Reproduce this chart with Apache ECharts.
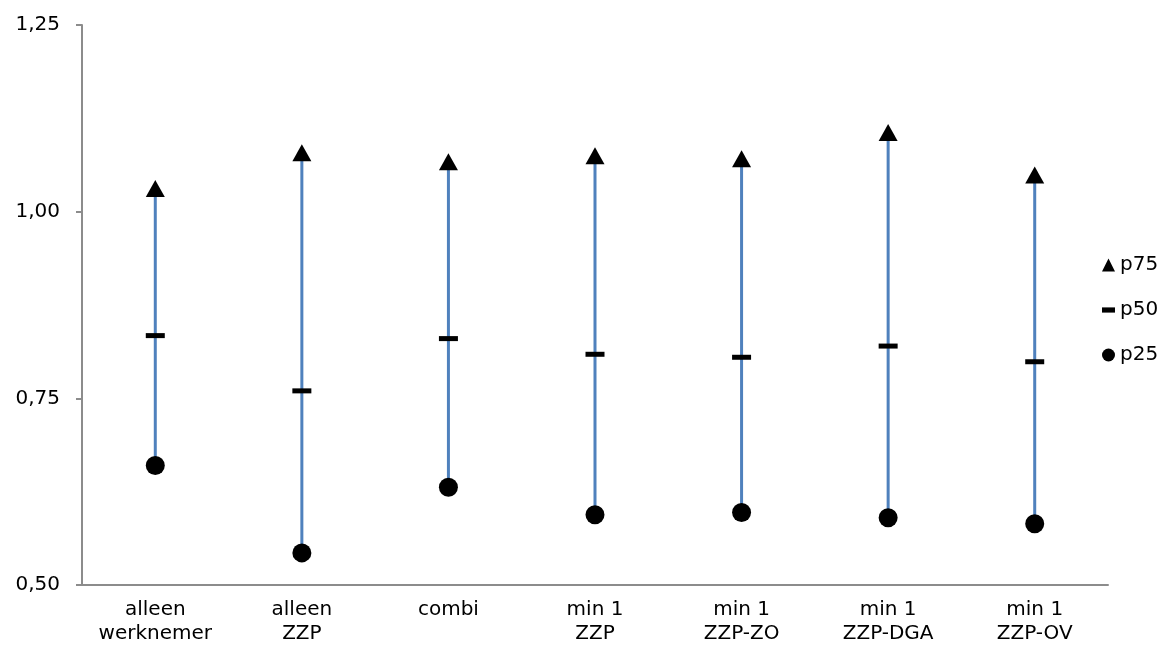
<!DOCTYPE html>
<html>
<head>
<meta charset="utf-8">
<script src="https://cdn.jsdelivr.net/npm/echarts@6/dist/echarts.min.js"></script>
<style>
html,body{margin:0;padding:0;background:#fff;}
#chart{width:1161px;height:650px;}
</style>
</head>
<body>
<div id="chart"></div>
<script>
const categories = ['alleen\nwerknemer', 'alleen\nZZP', 'combi', 'min 1\nZZP', 'min 1\nZZP-ZO', 'min 1\nZZP-DGA', 'min 1\nZZP-OV'];
const p75 = [1.031, 1.079, 1.067, 1.075, 1.071, 1.106, 1.049];
const p50 = [0.834, 0.760, 0.830, 0.809, 0.805, 0.820, 0.799];
const p25 = [0.660, 0.543, 0.631, 0.594, 0.597, 0.590, 0.582];
const yTicks = [0.5, 0.75, 1.0, 1.25];

const FONT = '"DejaVu Sans", Verdana, sans-serif';
const chart = echarts.init(document.getElementById('chart'));

const rangeData = categories.map((c, i) => [i, p25[i], p75[i]]);

chart.setOption({
  animation: false,
  backgroundColor: '#fff',
  grid: { left: 82, right: 53, top: 25, bottom: 65, containLabel: false },
  legend: {
    orient: 'vertical',
    left: 1097,
    top: 250,
    itemWidth: 13,
    itemHeight: 13,
    itemGap: 25,
    itemStyle: { opacity: 1 },
    textStyle: { fontFamily: FONT, fontSize: 20, color: '#000', lineHeight: 20 },
    data: [
      { name: 'p75', icon: 'triangle' },
      { name: 'p50', icon: 'path://M0,0h10v4h-10z' },
      { name: 'p25', icon: 'circle' }
    ]
  },
  xAxis: {
    type: 'category',
    data: categories,
    boundaryGap: true,
    axisLine: { show: true, lineStyle: { color: '#8c8c8c', width: 2 } },
    axisTick: { show: false },
    axisLabel: { fontFamily: FONT, fontSize: 20, color: '#000', lineHeight: 24, margin: 13, interval: 0 },
    splitLine: { show: false }
  },
  yAxis: {
    type: 'value',
    min: yTicks[0],
    max: yTicks[yTicks.length - 1],
    interval: 0.25,
    axisLine: { show: true, lineStyle: { color: '#8c8c8c', width: 2 } },
    axisTick: { show: true, length: 6, lineStyle: { color: '#8c8c8c', width: 2 } },
    axisLabel: {
      fontFamily: FONT, fontSize: 20, color: '#000', margin: 22,
      formatter: v => v.toFixed(2).replace('.', ',')
    },
    splitLine: { show: false }
  },
  series: [
    {
      type: 'custom',
      name: 'range',
      data: rangeData,
      encode: { x: 0, y: [1, 2] },
      z: 1,
      renderItem: function (params, api) {
        const x = api.value(0);
        const lo = api.coord([x, api.value(1)]);
        const hi = api.coord([x, api.value(2)]);
        return {
          type: 'line',
          shape: { x1: lo[0], y1: lo[1], x2: hi[0], y2: hi[1] },
          style: { stroke: '#4F81BD', lineWidth: 3 }
        };
      }
    },
    {
      type: 'scatter', name: 'p75', data: p75, symbol: 'triangle', symbolSize: [19, 17],
      itemStyle: { color: '#000', opacity: 1 }, z: 3
    },
    {
      type: 'scatter', name: 'p50', data: p50, symbol: 'rect', symbolSize: [19, 5],
      itemStyle: { color: '#000', opacity: 1 }, z: 3
    },
    {
      type: 'scatter', name: 'p25', data: p25, symbol: 'circle', symbolSize: 19,
      itemStyle: { color: '#000', opacity: 1 }, z: 3
    }
  ]
});
</script>
</body>
</html>
